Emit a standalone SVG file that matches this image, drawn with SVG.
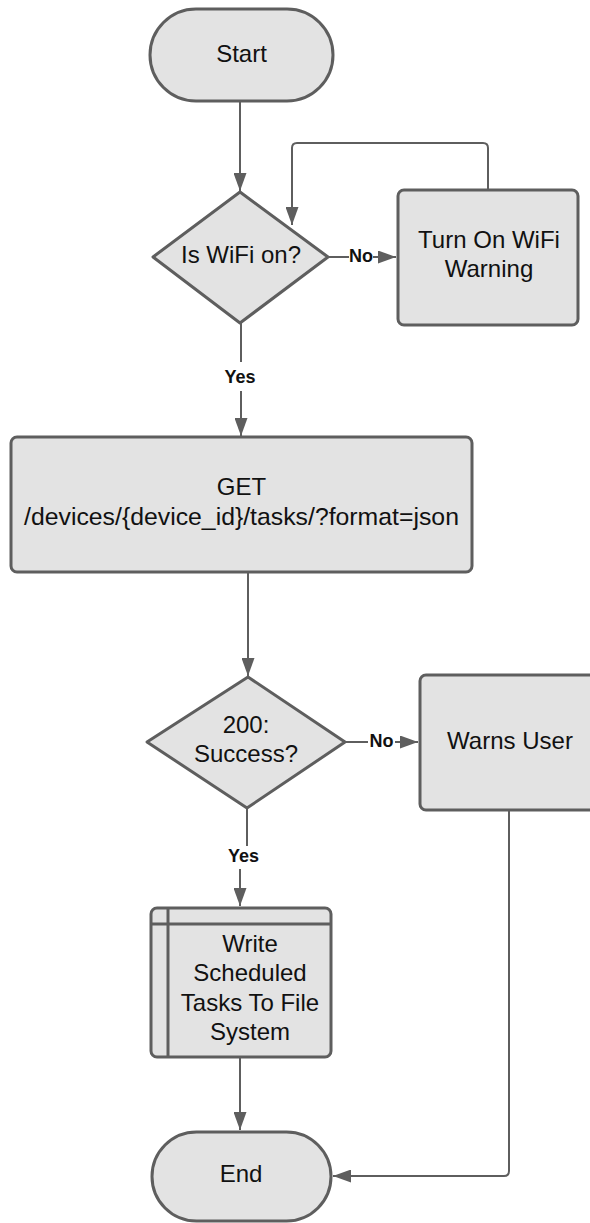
<svg xmlns="http://www.w3.org/2000/svg" width="590" height="1223" viewBox="0 0 590 1223">
  <style>
    .shape { fill: #e3e3e3; stroke: #5e5e5e; stroke-width: 3; stroke-linejoin: round; }
    .inner { fill: none; stroke: #5e5e5e; stroke-width: 3; }
    .txt { font-family: "Liberation Sans", Arial, sans-serif; font-size: 24px; fill: #111; text-anchor: middle; }
    .wide { font-size: 24.8px; }
    .edge { fill: none; stroke: #5e5e5e; stroke-width: 2; marker-end: url(#arrow); }
    .lbl { font-family: "Liberation Sans", Arial, sans-serif; font-size: 18px; font-weight: bold; fill: #111; text-anchor: middle; }
    .lblbg { fill: #ffffff; }
  </style>
  <defs>
    <marker id="arrow" markerUnits="userSpaceOnUse" markerWidth="18" markerHeight="13" refX="18" refY="6.5" orient="auto">
      <path d="M0,0 L18,6.5 L0,13 z" fill="#5e5e5e"/>
    </marker>
  </defs>

  <rect width="590" height="1223" fill="#ffffff"/>

  <!-- connectors -->
  <g id="connectors">
    <path class="edge" d="M240,101 V191"/>
    <path class="edge" d="M328,257 H396"/>
    <path class="edge" d="M488,190 V148 Q488,143 483,143 H297 Q292,143 292,148 V225"/>
    <path class="edge" d="M241,323 V436"/>
    <path class="edge" d="M248,572 V676"/>
    <path class="edge" d="M345,742 H418"/>
    <path class="edge" d="M247,808 V857 H240 V906"/>
    <path class="edge" d="M240,1057 V1130"/>
    <path class="edge" d="M509,810 V1171 Q509,1176 504,1176 H333"/>
    <!-- connector labels -->
    <rect class="lblbg" x="349" y="248" width="24" height="18"/>
    <text class="lbl" x="361" y="262">No</text>
    <rect class="lblbg" x="222" y="362" width="36" height="29"/>
    <text class="lbl" x="240" y="383">Yes</text>
    <rect class="lblbg" x="368" y="733" width="27" height="18"/>
    <text class="lbl" x="381.5" y="747">No</text>
    <rect class="lblbg" x="225" y="846" width="37" height="23"/>
    <text class="lbl" x="243.5" y="862">Yes</text>
  </g>

  <!-- nodes -->
  <g id="start">
    <rect class="shape" x="150" y="9" width="183" height="92" rx="46" ry="46"/>
    <text class="txt" x="241.5" y="62">Start</text>
  </g>

  <g id="wifi-check">
    <polygon class="shape" points="240,192 328,257 240,323 153,257"/>
    <text class="txt" x="241" y="263">Is WiFi on?</text>
  </g>

  <g id="wifi-warning">
    <rect class="shape" x="398" y="190" width="180" height="135" rx="6" ry="6"/>
    <text class="txt" x="489" y="248">Turn On WiFi</text>
    <text class="txt" x="489" y="277">Warning</text>
  </g>

  <g id="get-tasks">
    <rect class="shape" x="11" y="437" width="461" height="135" rx="6" ry="6"/>
    <text class="txt" x="241.5" y="495">GET</text>
    <text class="txt wide" x="241.5" y="525">/devices/{device_id}/tasks/?format=json</text>
  </g>

  <g id="success-check">
    <polygon class="shape" points="248,677 345,742 247,808 147,742"/>
    <text class="txt" x="246" y="733">200:</text>
    <text class="txt" x="246" y="762">Success?</text>
  </g>

  <g id="warn-user">
    <rect class="shape" x="420" y="675" width="180" height="135" rx="6" ry="6"/>
    <text class="txt" x="510" y="749">Warns User</text>
  </g>

  <g id="write-tasks">
    <rect class="shape" x="151" y="908" width="180" height="149" rx="6" ry="6"/>
    <line class="inner" x1="168" y1="908" x2="168" y2="1057"/>
    <line class="inner" x1="151" y1="924" x2="331" y2="924"/>
    <text class="txt" x="250" y="952">Write</text>
    <text class="txt" x="250" y="981">Scheduled</text>
    <text class="txt" x="250" y="1011">Tasks To File</text>
    <text class="txt" x="250" y="1040">System</text>
  </g>

  <g id="end">
    <rect class="shape" x="152" y="1132" width="179" height="89" rx="44.5" ry="44.5"/>
    <text class="txt" x="241" y="1182">End</text>
  </g>
</svg>
